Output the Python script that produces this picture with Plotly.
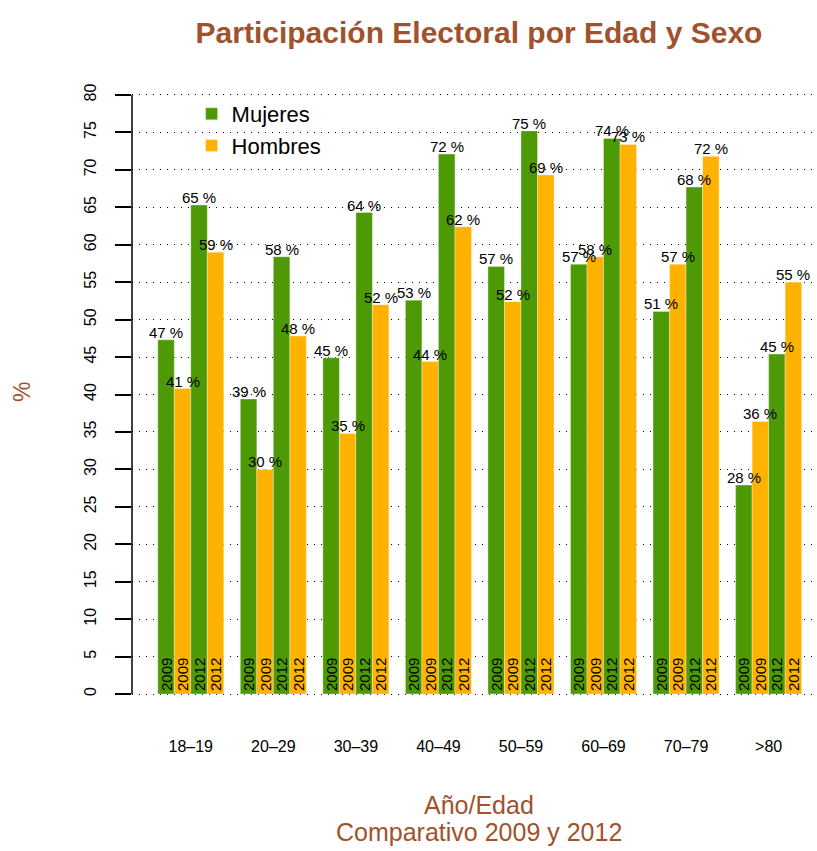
import plotly.graph_objects as go

categories = ["18–19", "20–29", "30–39", "40–49", "50–59", "60–69", "70–79", ">80"]
mujeres_2009 = [47.3, 39.4, 44.9, 52.6, 57.1, 57.4, 51.1, 27.9]
hombres_2009 = [40.8, 30.0, 34.8, 44.4, 52.4, 58.4, 57.4, 36.4]
mujeres_2012 = [65.3, 58.4, 64.3, 72.1, 75.2, 74.2, 67.7, 45.4]
hombres_2012 = [59.0, 47.8, 52.0, 62.4, 69.3, 73.4, 71.8, 55.0]
y_ticks = list(range(0, 85, 5))

GREEN = "#4E9A06"
ORANGE = "#FFB300"
SIENNA = "#A0522D"
FONT = "Liberation Sans"

series = [
    ("Mujeres", "2009", mujeres_2009, GREEN, True),
    ("Hombres", "2009", hombres_2009, ORANGE, True),
    ("Mujeres", "2012", mujeres_2012, GREEN, False),
    ("Hombres", "2012", hombres_2012, ORANGE, False),
]

fig = go.Figure()
value_labels = []
for k, (name, year, vals, color, show) in enumerate(series):
    xs = [1 + 5 * g + k + 0.5 for g in range(len(categories))]
    fig.add_trace(go.Bar(
        x=xs, y=vals, width=1, name=name, legendgroup=name, showlegend=show,
        marker=dict(color=color, line=dict(width=0.6, color="rgba(255,255,255,0.55)")),
        text=[year] * len(vals), textposition="inside", insidetextanchor="start",
        textangle=-90, constraintext="none",
        insidetextfont=dict(family=FONT, size=15, color="black"),
        hoverinfo="skip",
    ))
    for x, v in zip(xs, vals):
        value_labels.append(dict(
            x=x, y=v, xref="x", yref="y", text=f"{round(v)} %", showarrow=False,
            xanchor="center", yanchor="bottom", yshift=-3,
            font=dict(family=FONT, size=15, color="black"),
        ))

group_centers = [1 + 5 * g + 2 for g in range(len(categories))]

PL, PR, PT, PB = 132, 817, 71, 718
def px(xp):
    return (xp - PL) / (PR - PL)
def py(yp):
    return (PB - yp) / (PB - PT)

fig.update_layout(
    width=817, height=851,
    margin=dict(l=PL, r=817 - PR, t=PT, b=851 - PB),
    plot_bgcolor="white", paper_bgcolor="white",
    font=dict(family=FONT, color="black"),
    barmode="overlay",
    hovermode=False,
    uniformtext=dict(mode="show", minsize=15),
    title=dict(text="Participación Electoral por Edad y Sexo", x=px(479), xanchor="center",
               y=1 - 32 / 851, yanchor="middle", xref="paper",
               font=dict(family=FONT, size=30, color=SIENNA, weight="bold")),
    legend=dict(x=0.087, y=0.966, xanchor="left", yanchor="top", bgcolor="rgba(0,0,0,0)",
                font=dict(family=FONT, size=22, color="black"), tracegroupgap=0),
    xaxis=dict(range=[-0.56, 40.93], tickvals=group_centers, ticktext=categories,
               showgrid=False, zeroline=False, showline=False, ticks="",
               tickfont=dict(family=FONT, size=16, color="black"), ticklabelstandoff=17),
    yaxis=dict(range=[-3.2, 83.2], tickvals=y_ticks, ticktext=[str(v) for v in y_ticks],
               showgrid=True, gridcolor="black", gridwidth=1, griddash="1px,6px",
               zeroline=False, showline=False, ticks="outside", ticklen=16, tickwidth=1.5,
               tickcolor="black", tickangle=-90,
               tickfont=dict(family=FONT, size=16, color="black"), ticklabelstandoff=13),
    shapes=[dict(type="line", xref="paper", yref="y", x0=0, x1=0, y0=0, y1=80,
                 line=dict(color="black", width=1.5))],
    annotations=value_labels + [
        dict(text="%", xref="paper", yref="paper", x=px(22), y=py(392),
             xanchor="center", yanchor="middle", textangle=-90, showarrow=False,
             font=dict(family=FONT, size=23, color=SIENNA)),
        dict(text="Año/Edad", xref="paper", yref="paper", x=px(479), y=py(805),
             xanchor="center", yanchor="middle", showarrow=False,
             font=dict(family=FONT, size=25, color=SIENNA)),
        dict(text="Comparativo 2009 y 2012", xref="paper", yref="paper", x=px(479), y=py(832),
             xanchor="center", yanchor="middle", showarrow=False,
             font=dict(family=FONT, size=25, color=SIENNA)),
    ],
)

fig.write_html("out.html", config={"displayModeBar": False},
               post_script="document.body.style.margin='0px';document.body.style.overflow='hidden';")
